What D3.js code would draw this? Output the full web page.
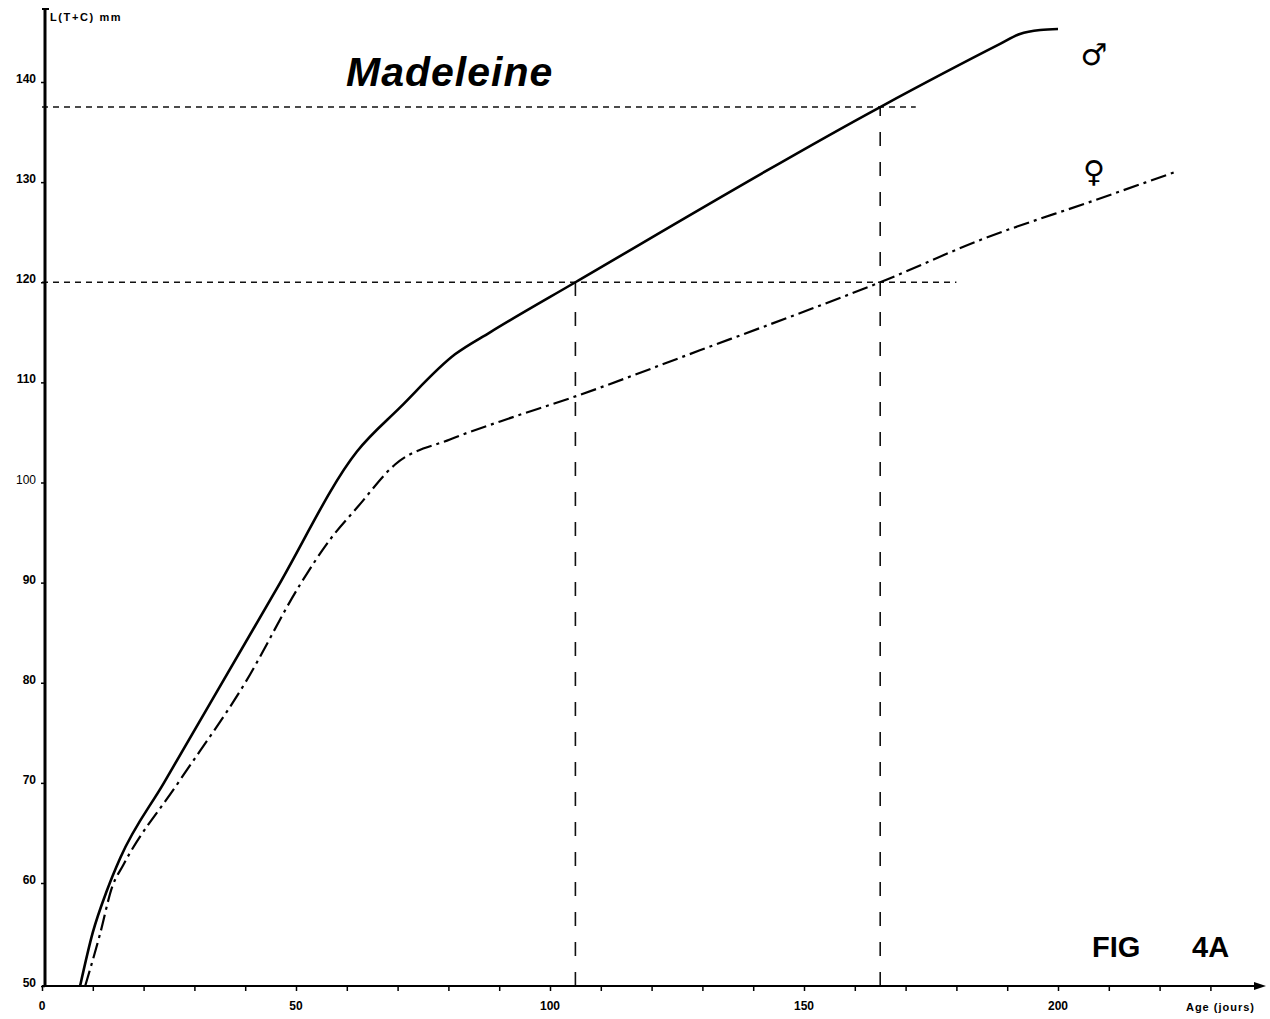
<!DOCTYPE html>
<html>
<head>
  <meta charset="utf-8">
  <script src="https://d3js.org/d3.v7.min.js"></script>
  <style>
    body { margin: 0; background: #fff; }
    svg { font-family: "Liberation Sans", Arial, sans-serif; }
  </style>
</head>
<body>
  <div id="chart"></div>
  <script>

// growth curves, L(T+C) in mm against age in days
const maleAge = [7.5, 10, 12.8, 15.4, 24, 46.1, 62, 70.5, 81.3, 88.2, 105, 165, 188.6, 192.5, 196.5, 200];
const maleLen = [50, 55.2, 59.3, 62.5, 70, 89.3, 103.1, 107.5, 112.8, 115, 120, 137.5, 143.8, 144.8, 145.2, 145.3];

const femaleAge = [8.5, 11.4, 13.8, 16, 26.8, 40, 50.8, 56.7, 62.2, 69.5, 80.3, 90.2, 105, 129.5, 151.2, 165, 184.6, 207.3, 223];
const femaleLen = [50, 55, 59.6, 61.8, 70, 80, 89.8, 94.3, 97.6, 101.8, 104.3, 106.1, 108.6, 113.2, 117.3, 120, 124.2, 128.2, 131];

// horizontal reading guides: length, and age where the dotted line stops
const guideLen = [120, 137.5];
const guideEnd = [180, 172];
// vertical reading guides: age, and length where they stop
const guideAge = [105, 165];
const guideTop = [120, 137.5];

const xTickLabels = [0, 50, 100, 150, 200];
const xMinorTicks = d3.range(0, 240, 10);
const yTickLabels = [50, 60, 70, 80, 90, 100, 110, 120, 130, 140];

const width = 1270, height = 1019;

const svg = d3.select("#chart")
  .append("svg")
  .attr("width", width)
  .attr("height", height);

const x = d3.scaleLinear().domain([0, 200]).range([42, 1058]);
const y = d3.scaleLinear().domain([50, 60, 140]).range([986, 883, 82]);

// guides
svg.selectAll(".hguide")
  .data(guideLen)
  .enter()
  .append("line")
  .attr("x1", x(0))
  .attr("x2", (d, i) => x(guideEnd[i]))
  .attr("y1", d => y(d))
  .attr("y2", d => y(d))
  .attr("stroke", "#111")
  .attr("stroke-width", 1.5)
  .attr("stroke-dasharray", "6,5");

svg.selectAll(".vguide")
  .data(guideAge)
  .enter()
  .append("line")
  .attr("x1", d => x(d))
  .attr("x2", d => x(d))
  .attr("y1", y(50))
  .attr("y2", (d, i) => y(guideTop[i]))
  .attr("stroke", "#111")
  .attr("stroke-width", 1.6)
  .attr("stroke-dasharray", "14,16");

// axes
const xAxis = d3.axisBottom(x)
  .tickValues(xMinorTicks)
  .tickSize(5)
  .tickFormat("");

svg.append("g")
  .attr("transform", `translate(0, ${y(50)})`)
  .call(xAxis)
  .call(g => g.select(".domain").remove())
  .call(g => g.selectAll("line").attr("stroke-width", 1.5));

svg.append("line")
  .attr("x1", x(0)).attr("x2", 1258)
  .attr("y1", y(50)).attr("y2", y(50))
  .attr("stroke", "#000").attr("stroke-width", 2);

svg.append("path")
  .attr("d", `M1266,${y(50)} L1254,${y(50) - 4} L1254,${y(50) + 4} Z`)
  .attr("fill", "#000");

svg.selectAll(".xlab")
  .data(xTickLabels)
  .enter()
  .append("text")
  .attr("x", d => x(d))
  .attr("y", y(50) + 24)
  .attr("text-anchor", "middle")
  .attr("font-size", 12)
  .attr("font-weight", "bold")
  .text(d => d);

const yAxis = d3.axisLeft(y)
  .tickValues(yTickLabels)
  .tickSize(4)
  .tickFormat("");

svg.append("g")
  .attr("transform", `translate(${x(0) + 3}, 0)`)
  .call(yAxis)
  .call(g => g.select(".domain").remove())
  .call(g => g.selectAll("line").attr("stroke-width", 1.5));

svg.append("line")
  .attr("x1", x(0) + 3).attr("x2", x(0) + 3)
  .attr("y1", y(50)).attr("y2", 8)
  .attr("stroke", "#000").attr("stroke-width", 3);

svg.append("line")
  .attr("x1", x(0)).attr("x2", x(0) + 7)
  .attr("y1", 9).attr("y2", 9)
  .attr("stroke", "#000").attr("stroke-width", 2);

svg.selectAll(".ylab")
  .data(yTickLabels)
  .enter()
  .append("text")
  .attr("x", x(0) - 6)
  .attr("y", d => y(d) + 1)
  .attr("text-anchor", "end")
  .attr("font-size", 12)
  .attr("font-weight", d => d === 100 ? "normal" : "bold")
  .text(d => d);

svg.append("text")
  .attr("x", 50)
  .attr("y", 21)
  .attr("font-size", 11)
  .attr("font-weight", "bold")
  .attr("letter-spacing", 1.6)
  .text("L(T+C) mm");

svg.append("text")
  .attr("x", 1255)
  .attr("y", y(50) + 25)
  .attr("text-anchor", "end")
  .attr("font-size", 11)
  .attr("font-weight", "bold")
  .attr("letter-spacing", 1)
  .text("Age (jours)");

// curves
const line = d3.line()
  .x(d => x(d[0]))
  .y(d => y(d[1]))
  .curve(d3.curveMonotoneX);

svg.append("path")
  .datum(maleAge.map((a, i) => [a, maleLen[i]]))
  .attr("d", line)
  .attr("fill", "none")
  .attr("stroke", "#000")
  .attr("stroke-width", 2.6);

svg.append("path")
  .datum(femaleAge.map((a, i) => [a, femaleLen[i]]))
  .attr("d", line)
  .attr("fill", "none")
  .attr("stroke", "#000")
  .attr("stroke-width", 2.2)
  .attr("stroke-dasharray", "16,5,3,5");

// titles and symbols
svg.append("text")
  .attr("x", 346)
  .attr("y", 86)
  .attr("font-size", 41)
  .attr("font-weight", "bold")
  .attr("font-style", "italic")
  .attr("letter-spacing", 1)
  .text("Madeleine");

svg.append("text")
  .attr("x", 1092)
  .attr("y", 957)
  .attr("font-size", 29)
  .attr("font-weight", "bold")
  .text("FIG");

svg.append("text")
  .attr("x", 1192)
  .attr("y", 957)
  .attr("font-size", 29)
  .attr("font-weight", "bold")
  .text("4A");

svg.append("text")
  .attr("x", 1094)
  .attr("y", 65)
  .attr("text-anchor", "middle")
  .attr("font-family", "DejaVu Sans")
  .attr("font-size", 30)
  .text("\u2642");

svg.append("text")
  .attr("x", 1094)
  .attr("y", 182)
  .attr("text-anchor", "middle")
  .attr("font-family", "DejaVu Sans")
  .attr("font-size", 30)
  .text("\u2640");

  </script>
</body>
</html>
